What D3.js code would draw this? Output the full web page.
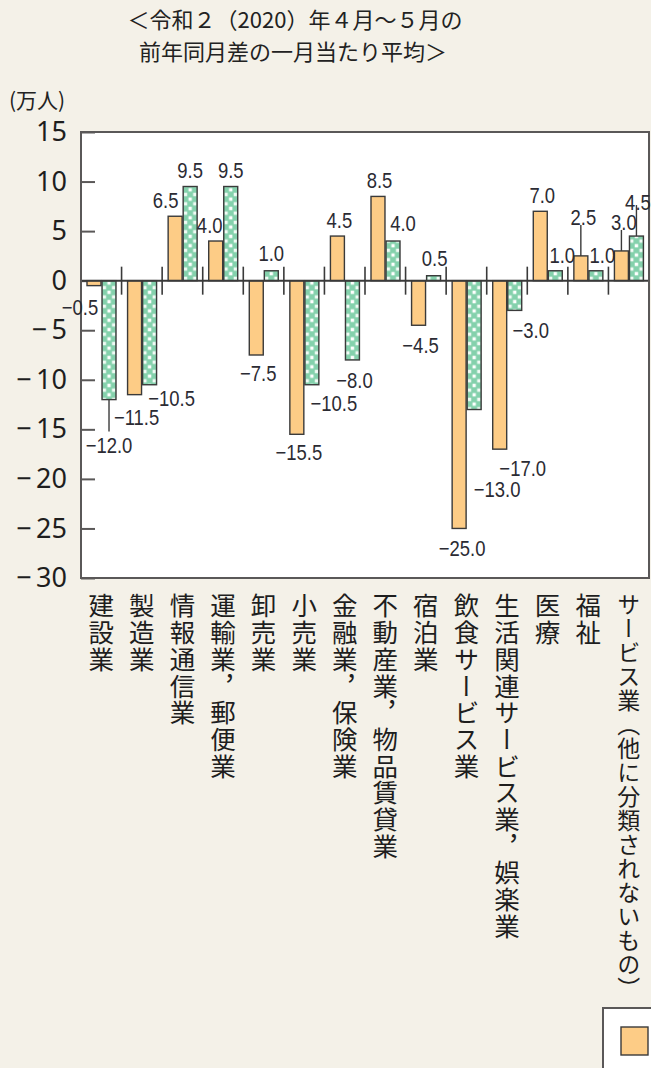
<!DOCTYPE html>
<html lang="ja">
<head>
<meta charset="utf-8">
<script src="https://cdn.jsdelivr.net/npm/d3@7"></script>
<style>
  html, body { margin: 0; padding: 0; background: #F4F1E8; }
  svg { display: block; }
</style>
</head>
<body>
<svg id="chart" width="651" height="1068"></svg>
<script>
// 産業別就業者数の前年同月差（令和2年4月～5月の一月当たり平均、万人）
const categories = [
  "建設業", "製造業", "情報通信業", "運輸業，郵便業", "卸売業", "小売業",
  "金融業，保険業", "不動産業，物品賃貸業", "宿泊業", "飲食サービス業",
  "生活関連サービス業，娯楽業", "医療", "福祉", "サービス業（他に分類されないもの）"
];
const seriesNames = ["女性", "男性"];
const femaleValues = [-0.5, -11.5, 6.5, 4.0, -7.5, -15.5, 4.5, 8.5, -4.5, -25.0, -17.0, 7.0, 2.5, 3.0];
const maleValues   = [-12.0, -10.5, 9.5, 9.5, 1.0, -10.5, -8.0, 4.0, 0.5, -13.0, -3.0, 1.0, 1.0, 4.5];
const yTicks = [15, 10, 5, 0, -5, -10, -15, -20, -25, -30];
const titleLines = ["＜令和２（2020）年４月～５月の", "前年同月差の一月当たり平均＞"];

// label placement offsets (px) from the end of each bar: [dx, dy, leader]
const femaleLabelPos = [
  [-14, 21, 0], [2, 22, 0], [-9.5, -16, 0], [-6, -16, 0], [2, 18, 0], [2, 18, 0], [2, -16, 0],
  [1.5, -16, 0], [2, 20, 0], [3, 20, 0], [23, 19, 0], [2, -16, 0], [2.5, -39, 1], [2.5, -29, 1]
];
const maleLabelPos = [
  [0, 45, 1], [22, 13, 0], [0, -16, 0], [0, -16, 0], [0, -18, 0], [22, 18, 0], [2, 20, 0],
  [10, -18, 0], [1, -18, 0], [23, 80, 0], [16, 20, 0], [7, -16, 0], [6.5, -16, 0], [1.5, -34, 1]
];

const colors = { female: "#FDCC86", male: "#84D1AC", stroke: "#3a3a3a", frame: "#5a5858", text: "#2b2b33" };

const svg = d3.select("#chart");
const plot = { left: 81, right: 649, top: 132, bottom: 578 };

const x = d3.scaleBand().domain(categories).range([plot.left, plot.right]).padding(0);
const sub = d3.scaleBand().domain([0, 1]).range([6, 35]).paddingInner(0.07);
const y = d3.scaleLinear().domain([-30, 15]).range([plot.bottom, plot.top]);

const minus = s => String(s).replace("-", "\u2212");
const fmt = d3.format(".1f");

// checker pattern for the second series
const defs = svg.append("defs");
const cell = sub.bandwidth() / 3;
const pat = defs.append("pattern")
  .attr("id", "checker")
  .attr("patternUnits", "userSpaceOnUse")
  .attr("width", cell * 2).attr("height", cell * 2)
  .attr("y", y(0));
pat.append("rect").attr("width", cell * 2).attr("height", cell * 2).attr("fill", colors.male);
const sq = cell * 0.72, off = (cell - sq) / 2;
pat.append("rect").attr("x", cell + off).attr("y", off).attr("width", sq).attr("height", sq).attr("fill", "#fff");
pat.append("rect").attr("x", off).attr("y", cell + off).attr("width", sq).attr("height", sq).attr("fill", "#f2fbf6");

// title, two lines
const title = svg.append("g")
  .attr("font-family", "'Noto Sans CJK JP', sans-serif")
  .attr("font-size", 22).attr("fill", "#222").attr("text-anchor", "middle");
title.selectAll("text").data(titleLines).join("text")
  .attr("x", (d, i) => i === 0 ? 295 : 293)
  .attr("y", (d, i) => 28 + i * 32)
  .text(d => d);

// unit
svg.append("text").attr("x", 9).attr("y", 108)
  .attr("font-family", "'Noto Sans CJK JP', sans-serif").attr("font-size", 21).attr("fill", "#222")
  .text("(万人)");

// plot background
svg.append("rect")
  .attr("x", plot.left).attr("y", plot.top)
  .attr("width", plot.right - plot.left).attr("height", plot.bottom - plot.top)
  .attr("fill", "#fff");

// y axis
const yAxis = d3.axisLeft(y).tickValues(yTicks).tickSize(-14).tickPadding(14)
  .tickFormat(d => d < 0 ? "\u2212\u2009" + Math.abs(d) : String(d));
const gy = svg.append("g").attr("transform", `translate(${plot.left},0)`).call(yAxis);
gy.select(".domain").remove();
gy.selectAll(".tick line").attr("stroke", colors.frame).attr("stroke-width", 2);
gy.selectAll(".tick text")
  .attr("font-family", "'Noto Sans', sans-serif").attr("font-size", 27).attr("fill", "#1e1e1e");

// bars
const barsF = svg.append("g");
categories.forEach((c, i) => {
  const v = femaleValues[i];
  barsF.append("rect")
    .attr("x", x(c) + sub(0)).attr("width", sub.bandwidth())
    .attr("y", y(Math.max(0, v))).attr("height", Math.abs(y(v) - y(0)))
    .attr("fill", colors.female).attr("stroke", colors.stroke).attr("stroke-width", 1.4);
});
categories.forEach((c, i) => {
  const v = maleValues[i];
  svg.append("g").attr("transform", `translate(${x(c) + sub(1)},0)`)
    .append("rect")
    .attr("x", 0).attr("width", sub.bandwidth())
    .attr("y", y(Math.max(0, v))).attr("height", Math.abs(y(v) - y(0)))
    .attr("fill", "url(#checker)").attr("stroke", colors.stroke).attr("stroke-width", 1.4);
});

// zero line and category separators
svg.append("line")
  .attr("x1", plot.left).attr("x2", plot.right).attr("y1", y(0)).attr("y2", y(0))
  .attr("stroke", colors.stroke).attr("stroke-width", 2);
svg.append("g").selectAll("line").data(categories.slice(1)).join("line")
  .attr("x1", d => x(d)).attr("x2", d => x(d))
  .attr("y1", y(0) - 14).attr("y2", y(0) + 14)
  .attr("stroke", colors.stroke).attr("stroke-width", 1.6);

// frame
svg.append("rect")
  .attr("x", plot.left).attr("y", plot.top)
  .attr("width", plot.right - plot.left).attr("height", plot.bottom - plot.top)
  .attr("fill", "none").attr("stroke", colors.frame).attr("stroke-width", 2);

// value labels with optional leader lines (condensed horizontally)
const labels = svg.append("g")
  .attr("font-family", "'Liberation Sans', Arial, sans-serif")
  .attr("font-size", 22).attr("fill", colors.text).attr("text-anchor", "middle");
function addLabels(values, pos, k) {
  values.forEach((v, i) => {
    const cx = x(categories[i]) + sub(k) + sub.bandwidth() / 2;
    const [dx, dy, leader] = pos[i];
    const ly = y(v) + dy;
    if (leader) {
      const end = dy > 0 ? ly - 13 : ly + (k === 1 ? 3 : 8);
      svg.append("line").attr("x1", cx).attr("x2", cx).attr("y1", y(v)).attr("y2", end)
        .attr("stroke", colors.stroke).attr("stroke-width", 1.4);
    }
    labels.append("text")
      .attr("transform", `translate(${cx + dx},${ly}) scale(0.84,1)`)
      .attr("dy", "0.36em")
      .text(minus(fmt(v)));
  });
}
addLabels(femaleValues, femaleLabelPos, 0);
addLabels(maleValues, maleLabelPos, 1);
labels.raise();

// vertical category labels
const xl = svg.append("g")
  .attr("font-family", "'Noto Sans CJK JP', sans-serif").attr("fill", "#1e1e1e");
categories.forEach((c, i) => {
  const long = c.length > 14;
  xl.append("text")
    .attr("x", x(c) + x.bandwidth() / 2).attr("y", 593)
    .attr("font-size", long ? 23 : 25.5)
    .attr("letter-spacing", long ? 1 : 1.2)
    .style("writing-mode", "vertical-rl")
    .text(c);
});

// legend (first entry swatch; the box continues past the right edge)
const lg = svg.append("g");
lg.append("rect").attr("x", 603).attr("y", 1008).attr("width", 240).attr("height", 90)
  .attr("fill", "#fff").attr("stroke", colors.frame).attr("stroke-width", 2);
lg.append("rect").attr("x", 621).attr("y", 1027).attr("width", 27).attr("height", 28)
  .attr("fill", colors.female).attr("stroke", colors.stroke).attr("stroke-width", 1.4);
</script>
</body>
</html>
